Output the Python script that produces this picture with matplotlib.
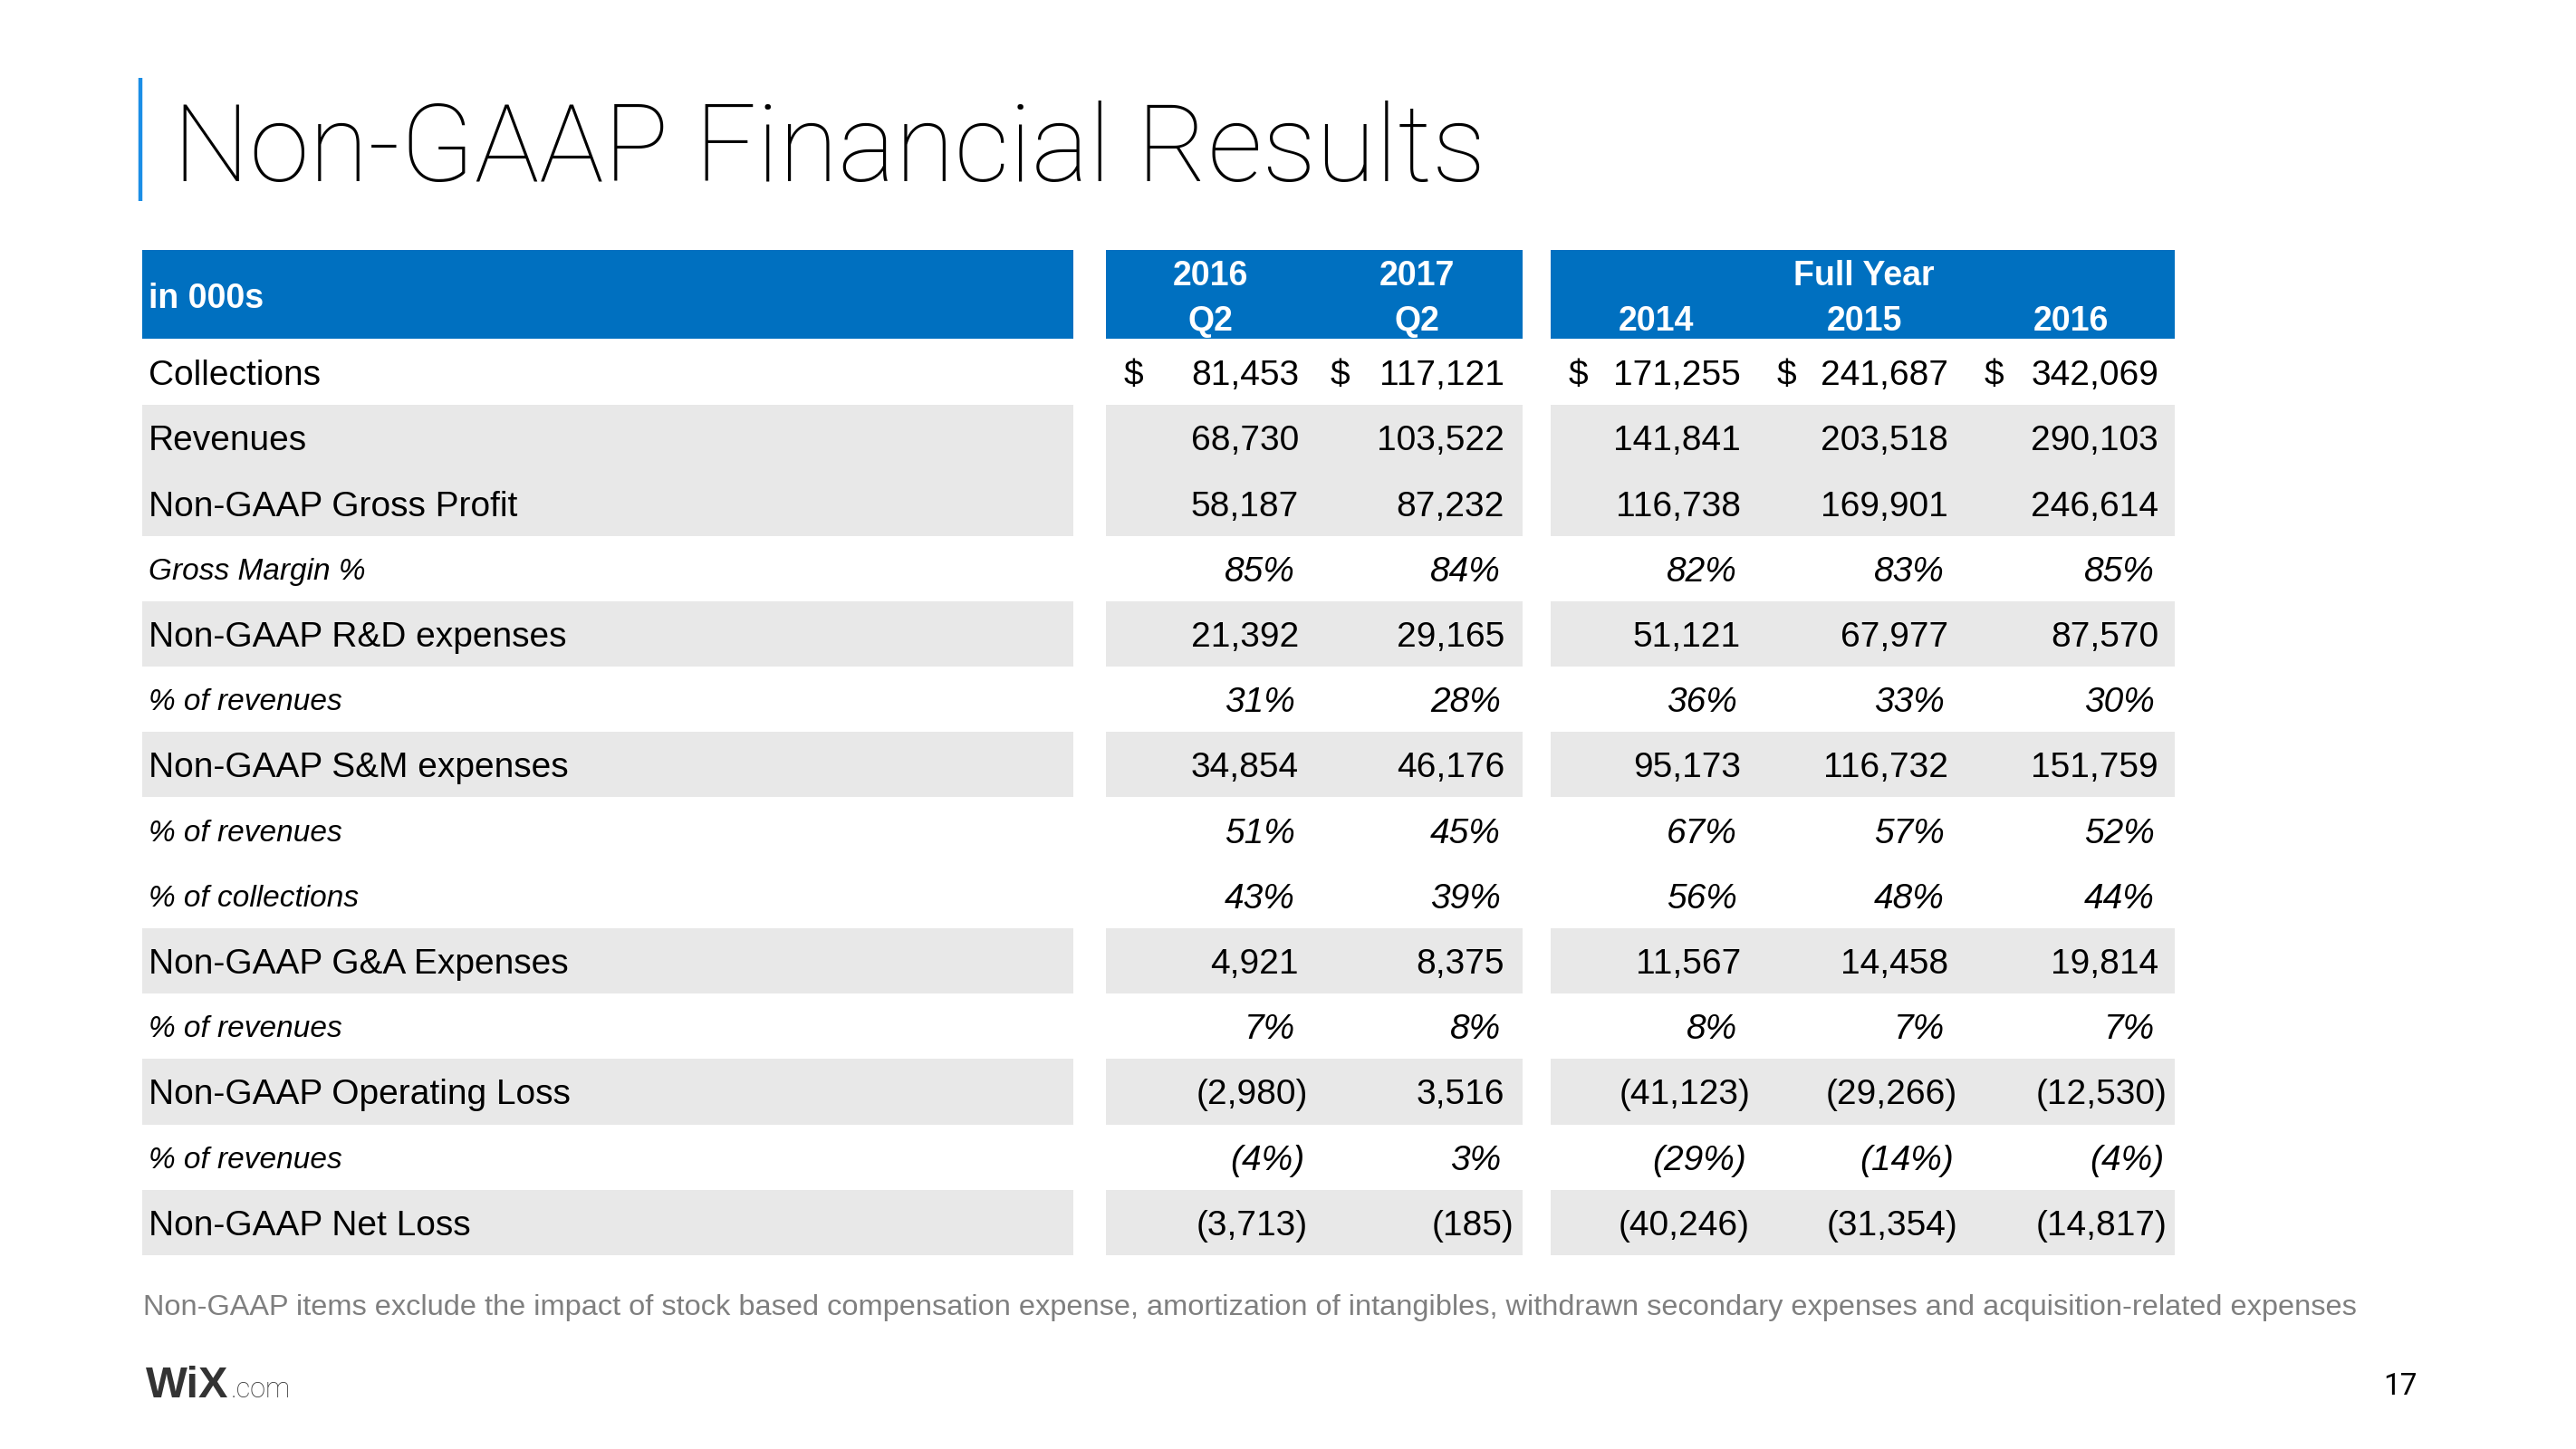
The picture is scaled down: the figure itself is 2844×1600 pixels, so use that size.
import matplotlib
matplotlib.use("Agg")
import matplotlib.pyplot as plt

# table content (in 000s)
row_labels = [
    "Collections", "Revenues", "Non-GAAP Gross Profit", "Gross Margin %",
    "Non-GAAP R&D expenses", "% of revenues", "Non-GAAP S&M expenses",
    "% of revenues", "% of collections", "Non-GAAP G&A Expenses",
    "% of revenues", "Non-GAAP Operating Loss", "% of revenues",
    "Non-GAAP Net Loss",
]
row_kind = ["usd", "num", "num", "pct", "num", "pct", "num",
            "pct", "pct", "num", "pct", "num", "pct", "num"]

q2_2016 = [81453, 68730, 58187, 85, 21392, 31, 34854, 51, 43, 4921, 7, -2980, -4, -3713]
q2_2017 = [117121, 103522, 87232, 84, 29165, 28, 46176, 45, 39, 8375, 8, 3516, 3, -185]
fy_2014 = [171255, 141841, 116738, 82, 51121, 36, 95173, 67, 56, 11567, 8, -41123, -29, -40246]
fy_2015 = [241687, 203518, 169901, 83, 67977, 33, 116732, 57, 48, 14458, 7, -29266, -14, -31354]
fy_2016 = [342069, 290103, 246614, 85, 87570, 30, 151759, 52, 44, 19814, 7, -12530, -4, -14817]
columns = [q2_2016, q2_2017, fy_2014, fy_2015, fy_2016]

header_top = ["2016", "2017", "", "", ""]
header_bottom = ["Q2", "Q2", "2014", "2015", "2016"]
group_title = "Full Year"
unit_label = "in 000s"
title = "Non-GAAP Financial Results"
footnote = ("Non-GAAP items exclude the impact of stock based compensation expense, "
            "amortization of intangibles, withdrawn secondary expenses and "
            "acquisition-related expenses")
page_no = "17"

BLUE = "#0070C0"
GRAY = "#E8E8E8"
BODY = "Liberation Sans"
LIGHT = ["Roboto", "DejaVu Sans"]

fig = plt.figure(figsize=(28.44, 16), dpi=100)
ax = fig.add_axes([0, 0, 1, 1])
ax.set_xlim(0, 2844)
ax.set_ylim(1600, 0)
ax.axis("off")

# layout in pixels
panels = [(157, 1185), (1221, 1681), (1712, 2401)]
head_y0, head_y1 = 276, 374
row_h = (1386 - 375) / len(row_labels)
col_right = [1434, 1661, 1922, 2151, 2383]
col_dollar = [1241, 1469, 1732, 1962, 2191]
col_center = [1336, 1564, 1828, 2058, 2286]

# title + accent bar
ax.plot([155, 155], [86, 222], color="#1B8EE6", lw=3.2, solid_capstyle="butt")
ax.text(191, 200, title, fontsize=86, family=LIGHT,
        fontweight="light", color="black", va="baseline", ha="left")

# header bars
for x0, x1 in panels:
    ax.barh((head_y0 + head_y1) / 2, x1 - x0, left=x0, height=head_y1 - head_y0,
            color=BLUE, edgecolor="none")

hdr = dict(fontsize=27, family=BODY, fontweight="bold", color="white", ha="center")
ax.text(164, 340, unit_label, va="baseline", ha="left", fontsize=27, family=BODY,
        fontweight="bold", color="white")
for j in range(len(columns)):
    if header_top[j]:
        ax.text(col_center[j], 315, header_top[j], va="baseline", **hdr)
    ax.text(col_center[j], 365, header_bottom[j], va="baseline", **hdr)
ax.text(col_center[3], 315, group_title, va="baseline", **hdr)

# row shading
for i, kind in enumerate(row_kind):
    yc = 375 + (i + 0.5) * row_h
    if kind == "num":
        for x0, x1 in panels:
            ax.barh(yc, x1 - x0, left=x0, height=row_h, color=GRAY, edgecolor="none")


def fmt(v, kind):
    s = f"{abs(v)}%" if kind == "pct" else f"{abs(v):,}"
    return f"({s})" if v < 0 else s


# row texts
for i, (label, kind) in enumerate(zip(row_labels, row_kind)):
    yc = 375 + (i + 0.5) * row_h
    if kind == "pct":
        ax.text(164, yc + 12, label, fontsize=24, family=BODY, style="italic",
                color="black", va="baseline", ha="left")
    else:
        ax.text(164, yc + 14, label, fontsize=28, family=BODY,
                color="black", va="baseline", ha="left")
    for j, col in enumerate(columns):
        v = col[i]
        x = col_right[j] + (10 if v < 0 else 0) - (4 if kind == "pct" else 0)
        ax.text(x, yc + 14, fmt(v, kind), fontsize=28, family=BODY,
                style="italic" if kind == "pct" else "normal",
                color="black", va="baseline", ha="right")
        if kind == "usd":
            ax.text(col_dollar[j], yc + 14, "$", fontsize=28, family=BODY,
                    color="black", va="baseline", ha="left")

# footnote
ax.text(158, 1452, footnote, fontsize=23.4, family=BODY, color="#7F7F7F",
        va="baseline", ha="left")

# logo and page number
ax.text(161, 1543, "WiX", fontsize=35, family=BODY, fontweight="bold",
        color="#333333", va="baseline", ha="left")
ax.text(255, 1543, ".com", fontsize=22, family=LIGHT,
        fontweight="light", color="#333333", va="baseline", ha="left")
ax.text(2669, 1540, page_no, fontsize=24, family=LIGHT,
        color="black", va="baseline", ha="right")

fig.savefig("out.png", dpi=100, facecolor="white")
